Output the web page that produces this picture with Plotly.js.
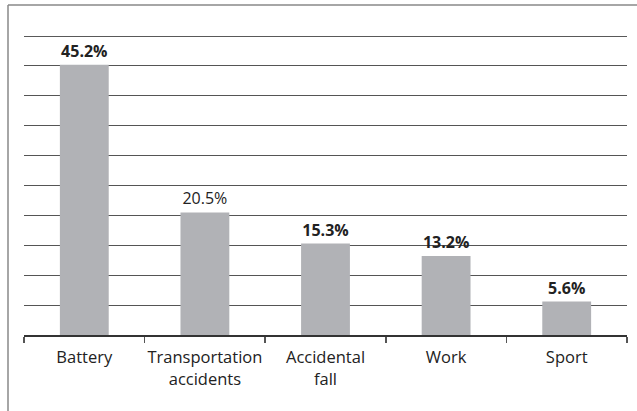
<!DOCTYPE html>
<html>
<head>
<meta charset="utf-8">
<script src="https://cdn.plot.ly/plotly-3.0.1.min.js"></script>
<style>html,body{margin:0;padding:0;background:#fff;}#chart{width:637px;height:411px;}</style>
</head>
<body>
<div id="chart"></div>
<script>
var categories = ["Battery", "Transportation<br>accidents", "Accidental<br>fall", "Work", "Sport"];
var values = [45.2, 20.5, 15.3, 13.2, 5.6];
var labels = ["<b>45.2%</b>", "20.5%", "<b>15.3%</b>", "<b>13.2%</b>", "<b>5.6%</b>"];

var trace = {
  type: "bar",
  x: categories,
  y: values,
  text: labels,
  textposition: "outside",
  cliponaxis: false,
  textfont: {family: "Open Sans, Noto Sans, sans-serif", size: 16, color: "#222"},
  marker: {color: "#b1b2b6"},
  hoverinfo: "skip"
};

var layout = {
  width: 637, height: 411,
  margin: {l: 24, r: 10, t: 36, b: 76},
  paper_bgcolor: "#fff", plot_bgcolor: "#fff",
  showlegend: false,
  bargap: 0.595,
  font: {family: "Open Sans, Noto Sans, sans-serif", size: 14, color: "#222"},
  xaxis: {
    showline: true, linecolor: "#333", linewidth: 1.5,
    ticks: "outside", tickson: "boundaries", ticklen: 6, tickcolor: "#555", tickwidth: 1.5,
    ticklabelstandoff: 7, tickangle: 0, automargin: false,
    showgrid: false, tickfont: {size: 16.5, color: "#222"}
  },
  yaxis: {
    range: [0, 50], dtick: 5, showticklabels: false,
    showgrid: true, gridcolor: "#555", gridwidth: 1,
    zeroline: false, showline: false, ticks: ""
  },
  shapes: [
    {type: "line", xref: "paper", yref: "paper", x0: -16/603, x1: 1.1, y0: 1 + 31/299, y1: 1 + 31/299, line: {color: "#888", width: 1.5}},
    {type: "line", xref: "paper", yref: "paper", x0: -16/603, x1: -16/603, y0: 1 + 31/299, y1: -1, line: {color: "#888", width: 1.5}},
    {type: "line", xref: "paper", yref: "y", x0: 0, x1: 1, y0: 50, y1: 50, line: {color: "#222", width: 1.5}}
  ]
};

Plotly.newPlot("chart", [trace], layout, {displayModeBar: false, staticPlot: true});
</script>
</body>
</html>
